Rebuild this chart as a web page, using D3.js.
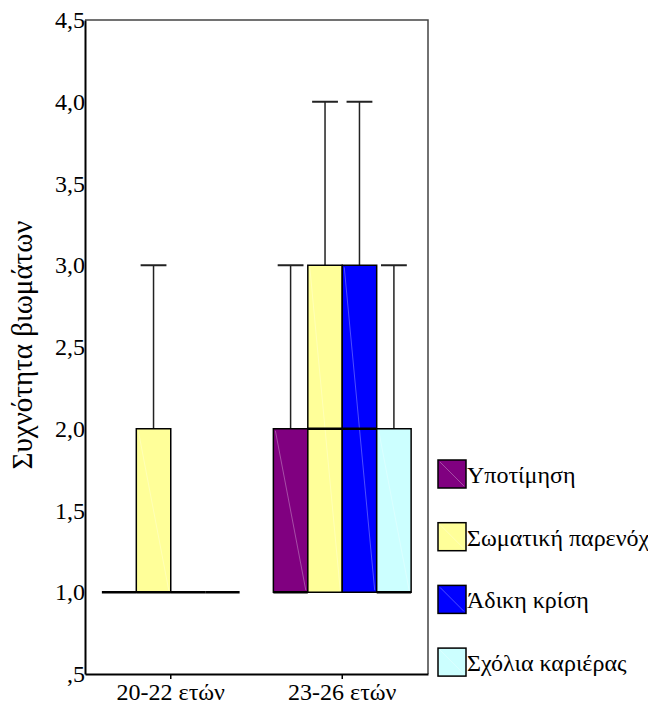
<!DOCTYPE html>
<html>
<head>
<meta charset="utf-8">
<script src="https://cdn.jsdelivr.net/npm/d3@7"></script>
<style>
  body { margin: 0; background: #fff; }
  svg, svg text { font-family: "Liberation Serif", "Times New Roman", Times, "DejaVu Serif", serif; }
</style>
</head>
<body>
<svg id="chart"></svg>
<script>
const groups = ["20-22 ετών", "23-26 ετών"];
const series = ["Υποτίμηση", "Σωματική παρενόχ", "Άδικη κρίση", "Σχόλια καριέρας"];
const colors = ["#800080", "#ffff99", "#0000ff", "#ccffff"];
const yTicks = [0.5, 1, 1.5, 2, 2.5, 3, 3.5, 4, 4.5];

// box stats per group, one entry per series: [min, q1, median, q3, max]
const stats2022 = [[1, 1, 1, 1, 1], [1, 1, 1, 2, 3], [1, 1, 1, 1, 1], [1, 1, 1, 1, 1]];
const stats2326 = [[1, 1, 1, 2, 3], [1, 1, 2, 3, 4], [1, 1, 2, 3, 4], [1, 1, 1, 2, 3]];

const width = 648, height = 706;
const margin = { top: 20, right: 220, bottom: 32, left: 85 };

const svg = d3.select("#chart")
    .attr("width", width)
    .attr("height", height);

const y = d3.scaleLinear()
    .domain([0.5, 4.5])
    .range([height - margin.bottom, margin.top]);

const x = d3.scaleBand()
    .domain(groups)
    .range([margin.left, width - margin.right]);

const xs = d3.scaleBand()
    .domain(series)
    .range([0, x.bandwidth()])
    .paddingOuter(0.49);

// frame (top and right)
svg.append("path")
    .attr("d", `M${margin.left},${margin.top}H${width - margin.right}V${height - margin.bottom}`)
    .attr("fill", "none")
    .attr("stroke", "#444")
    .attr("stroke-width", 1.5);

// y axis
const yAxisGroup = svg.append("g")
    .attr("transform", `translate(${margin.left},0)`)
    .call(d3.axisLeft(y)
        .tickValues(yTicks)
        .tickSize(0)
        .tickPadding(0)
        .tickFormat(d => d3.format(".1f")(d).replace(".", ",").replace(/^0/, "")));

yAxisGroup.attr("font-family", null).attr("font-size", null);
yAxisGroup.select(".domain").attr("stroke", "#000").attr("stroke-width", 2);
yAxisGroup.selectAll("text")
    .style("font-size", "24px")
    .attr("fill", "#000");

// x axis
const xAxisGroup = svg.append("g")
    .attr("transform", `translate(0,${height - margin.bottom})`)
    .call(d3.axisBottom(x).tickSizeOuter(0).tickSizeInner(5).tickPadding(4));

xAxisGroup.attr("font-family", null).attr("font-size", null);
xAxisGroup.select(".domain").attr("stroke", "#000").attr("stroke-width", 2);
xAxisGroup.selectAll("line").attr("stroke", "#000").attr("stroke-width", 1.5);
xAxisGroup.selectAll("text")
    .style("font-size", "24px")
    .attr("fill", "#000");

// y title
svg.append("text")
    .attr("transform", `translate(32,345) rotate(-90)`)
    .attr("text-anchor", "middle")
    .style("font-size", "29px")
    .text("Συχνότητα βιωμάτων");

// boxes
const allStats = [stats2022, stats2326];
const boxes = [];
groups.forEach((g, gi) => {
    series.forEach((s, si) => {
        const [mn, q1, med, q3, mx] = allStats[gi][si];
        boxes.push({ g, s, si, mn, q1, med, q3, mx });
    });
});

const bw = xs.bandwidth();
const capW = bw * 0.75;

const boxG = svg.append("g")
    .selectAll("g")
    .data(boxes)
    .join("g")
    .attr("transform", d => `translate(${x(d.g) + xs(d.s)},0)`);

// whiskers
boxG.filter(d => d.mx > d.q3).append("line")
    .attr("x1", bw / 2).attr("x2", bw / 2)
    .attr("y1", d => y(d.q3)).attr("y2", d => y(d.mx))
    .attr("stroke", "#222").attr("stroke-width", 1.5);
boxG.filter(d => d.mx > d.q3).append("line")
    .attr("x1", (bw - capW) / 2).attr("x2", (bw + capW) / 2)
    .attr("y1", d => y(d.mx)).attr("y2", d => y(d.mx))
    .attr("stroke", "#222").attr("stroke-width", 2);

boxG.filter(d => d.q3 > d.q1).append("rect")
    .attr("x", 0)
    .attr("width", bw)
    .attr("y", d => y(d.q3))
    .attr("height", d => y(d.q1) - y(d.q3))
    .attr("fill", d => colors[d.si])
    .attr("stroke", "#000")
    .attr("stroke-width", 1.5);

// faint diagonal shading artefact
boxG.filter(d => d.q3 > d.q1).append("line")
    .attr("x1", 2).attr("x2", bw - 2)
    .attr("y1", d => y(d.q3) + 2).attr("y2", d => y(d.q1) - 2)
    .attr("stroke", "#fff").attr("stroke-opacity", 0.3).attr("stroke-width", 1);

// medians
boxG.append("line")
    .attr("x1", 0).attr("x2", bw)
    .attr("y1", d => y(d.med)).attr("y2", d => y(d.med))
    .attr("stroke", "#000").attr("stroke-width", 2.5);

// legend
const legend = svg.append("g")
    .selectAll("g")
    .data(series)
    .join("g")
    .attr("transform", (d, i) => `translate(438,${460 + i * 62.7})`);

legend.append("rect")
    .attr("width", 28).attr("height", 28)
    .attr("fill", (d, i) => colors[i])
    .attr("stroke", "#000").attr("stroke-width", 1.5);
legend.append("line")
    .attr("x1", 2).attr("y1", 2).attr("x2", 26).attr("y2", 26)
    .attr("stroke", "#fff").attr("stroke-opacity", 0.3);
legend.append("text")
    .attr("x", 29).attr("y", 23)
    .style("font-size", "24px")
    .text(d => d);
</script>
</body>
</html>
